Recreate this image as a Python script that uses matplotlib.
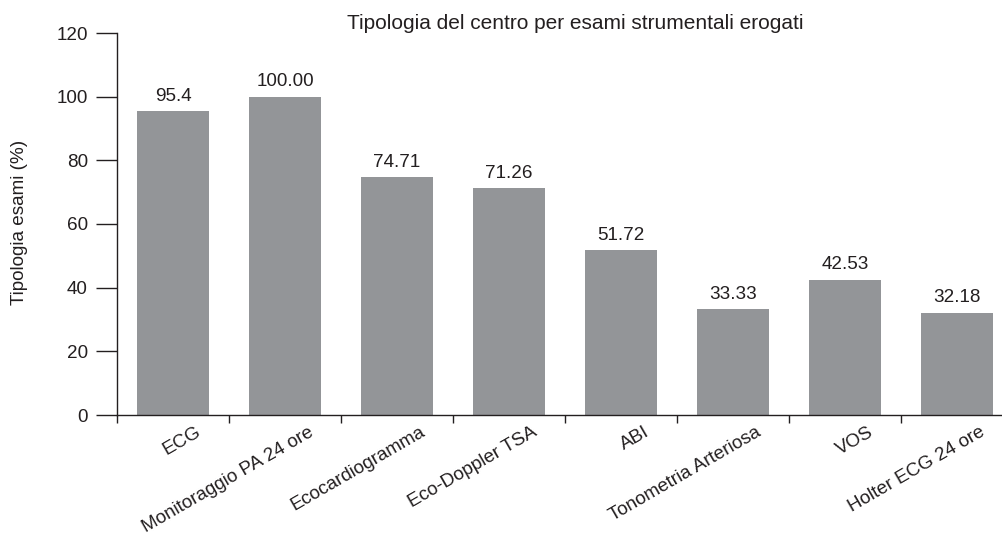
import matplotlib
matplotlib.use("Agg")
import matplotlib.pyplot as plt
import numpy as np

# ~~~ data ~~~
categories = ["ECG", "Monitoraggio PA 24 ore", "Ecocardiogramma",
              "Eco-Doppler TSA", "ABI", "Tonometria Arteriosa", "VOS",
              "Holter ECG 24 ore"]
values = [95.4, 100.00, 74.71, 71.26, 51.72, 33.33, 42.53, 32.18]
value_labels = ["95.4", "100.00", "74.71", "71.26", "51.72", "33.33",
                "42.53", "32.18"]
y_ticks = [0, 20, 40, 60, 80, 100, 120]

title = "Tipologia del centro per esami strumentali erogati"
y_label = "Tipologia esami (%)"

# ~~~ style ~~~
plt.rcParams['font.family'] = ['Liberation Sans', 'DejaVu Sans']
bar_color = "#939598"
ink = "#231f20"
fs = 13.6
W, H = 1003, 535

fig = plt.figure(figsize=(W / 100, H / 100), dpi=100)
# axes box in pixels: left 117, right 1013, top 33, bottom 415
ax = fig.add_axes([117 / W, (H - 415) / H, 896 / W, (415 - 33) / H])

x = np.arange(len(categories))
bars = ax.bar(x, values, width=0.64, color=bar_color, zorder=2)

for rect, lab in zip(bars, value_labels):
    ax.annotate(lab, xy=(rect.get_x() + rect.get_width() / 2, rect.get_height()),
                xytext=(0, 4.5), textcoords='offset points',
                ha='center', va='bottom', fontsize=fs, color=ink)

ax.set_xlim(-0.5, len(categories) - 0.5)
ax.set_ylim(0, 120)
ax.set_yticks(y_ticks)
ax.set_yticklabels([str(t) for t in y_ticks], fontsize=fs, color=ink)
ax.tick_params(axis='y', length=15, width=1, color=ink, pad=6)

# ticks between categories, labels placed by hand under the centres
ax.set_xticks([])
ax.set_xticks(np.arange(len(categories)) - 0.5, minor=True)
ax.tick_params(axis='x', which='minor', length=6, width=1, color=ink,
               direction='out')
for i, cat in enumerate(categories):
    ax.annotate(cat, xy=(i, 0), xycoords=('data', 'axes fraction'),
                xytext=(19.5, -11.5), textcoords='offset points',
                rotation=30, rotation_mode='anchor', ha='right', va='center',
                fontsize=fs, color=ink)

for side in ['top', 'right']:
    ax.spines[side].set_visible(False)
for side in ['left', 'bottom']:
    ax.spines[side].set_color(ink)
    ax.spines[side].set_linewidth(1)

ax.set_title(title, fontsize=15, color=ink, pad=3, x=0.511)
fig.text(20 / W, 1 - 222 / H, y_label, rotation=90, ha='center',
         va='center', fontsize=fs, color=ink)

fig.savefig("out.png", dpi=100)
